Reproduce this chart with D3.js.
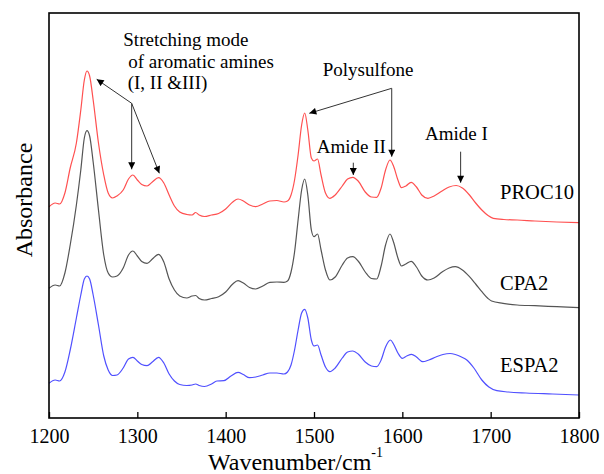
<!DOCTYPE html>
<html>
<head>
<meta charset="utf-8">
<script src="https://cdn.jsdelivr.net/npm/d3@7"></script>
<style>
html,body{margin:0;padding:0;background:#fff;}
svg{display:block;}
text{font-family:"Liberation Serif","Times New Roman","DejaVu Serif",serif;fill:#000;}
</style>
</head>
<body>
<svg id="chart" width="604" height="474"></svg>
<script>
// ---------------- data ----------------
const xTicks = [1200, 1300, 1400, 1500, 1600, 1700, 1800];

const wnPROC10 = [1200,1207,1212,1218,1224,1231,1236,1240,1243,1246,1250,1256,1262,1267,1272,1277,1284,1290,1295,1300,1305,1311,1317,1324,1330,1336,1342,1348,1356,1362,1366,1370,1376,1384,1392,1400,1408,1414,1420,1427,1434,1442,1450,1458,1466,1470,1474,1478,1482,1486,1489.5,1493,1497,1500,1504,1508,1513,1518,1524,1532,1538,1544,1550,1558,1565,1571,1576,1581,1586,1590,1595,1599,1604,1610,1616,1622,1629,1636,1645,1653,1661,1668,1676,1683,1690,1697,1703,1715,1730,1750,1775,1800];
const absPROC10 = [2.113,2.150,2.140,2.250,2.500,2.750,3.080,3.380,3.470,3.420,3.180,2.750,2.430,2.250,2.200,2.220,2.280,2.390,2.430,2.380,2.335,2.320,2.360,2.403,2.350,2.230,2.120,2.060,2.035,2.030,2.055,2.030,2.015,2.030,2.045,2.090,2.160,2.190,2.170,2.130,2.113,2.140,2.170,2.175,2.160,2.170,2.230,2.380,2.630,2.930,3.050,2.880,2.600,2.570,2.590,2.430,2.250,2.197,2.230,2.320,2.390,2.407,2.370,2.260,2.210,2.207,2.300,2.480,2.580,2.520,2.380,2.303,2.320,2.357,2.310,2.230,2.197,2.220,2.270,2.310,2.325,2.300,2.230,2.150,2.080,2.025,1.997,1.985,1.980,1.970,1.960,1.953];

const wnCPA2 = [1200,1207,1212,1218,1224,1231,1236,1240,1243,1246,1250,1256,1262,1267,1272,1277,1284,1290,1295,1300,1305,1311,1317,1324,1330,1336,1342,1348,1356,1362,1366,1370,1376,1384,1392,1400,1408,1414,1420,1427,1434,1442,1450,1458,1466,1470,1474,1478,1482,1486,1489.5,1493,1497,1500,1504,1508,1513,1518,1524,1532,1538,1544,1550,1558,1565,1571,1576,1581,1586,1590,1595,1599,1604,1610,1616,1622,1629,1636,1645,1653,1660,1668,1676,1683,1690,1697,1701,1714,1730,1750,1775,1800];
const absCPA2 = [1.297,1.330,1.320,1.450,1.730,2.130,2.480,2.800,2.873,2.820,2.560,2.080,1.630,1.450,1.410,1.420,1.500,1.630,1.670,1.620,1.565,1.547,1.590,1.637,1.560,1.390,1.280,1.220,1.200,1.220,1.225,1.195,1.180,1.195,1.213,1.260,1.340,1.373,1.350,1.305,1.290,1.320,1.357,1.360,1.357,1.370,1.460,1.660,1.980,2.280,2.390,2.230,1.880,1.813,1.840,1.680,1.480,1.380,1.410,1.530,1.600,1.613,1.570,1.460,1.395,1.390,1.520,1.730,1.840,1.760,1.600,1.520,1.540,1.567,1.510,1.420,1.380,1.400,1.460,1.500,1.513,1.480,1.413,1.340,1.263,1.195,1.170,1.147,1.130,1.123,1.113,1.103];

const wnESPA2 = [1200,1207,1212,1218,1224,1231,1236,1240,1243,1246,1250,1256,1262,1267,1272,1277,1284,1290,1295,1300,1305,1311,1317,1324,1330,1336,1342,1348,1356,1362,1366,1370,1376,1384,1390,1398,1406,1414,1420,1427,1434,1442,1450,1458,1466,1470,1474,1478,1482,1486,1489.5,1493,1497,1500,1504,1508,1513,1518,1524,1532,1538,1544,1550,1558,1565,1571,1576,1581,1586.5,1590,1595,1600,1605,1610.5,1616,1623,1630,1638,1646,1654,1660,1667,1673,1681,1690,1698,1707,1720,1740,1770,1800];
const absESPA2 = [0.347,0.380,0.370,0.460,0.680,1.000,1.230,1.390,1.420,1.390,1.230,0.930,0.620,0.480,0.425,0.430,0.500,0.590,0.607,0.570,0.535,0.523,0.560,0.607,0.550,0.440,0.370,0.335,0.325,0.330,0.340,0.325,0.315,0.340,0.370,0.373,0.420,0.457,0.435,0.403,0.410,0.430,0.450,0.450,0.440,0.460,0.530,0.680,0.880,1.050,1.087,1.000,0.780,0.720,0.730,0.630,0.510,0.463,0.500,0.600,0.660,0.670,0.640,0.560,0.520,0.513,0.580,0.710,0.780,0.740,0.650,0.597,0.620,0.637,0.610,0.563,0.580,0.610,0.635,0.645,0.635,0.610,0.580,0.500,0.380,0.310,0.273,0.260,0.250,0.240,0.230];

const seriesNames = ["PROC10", "CPA2", "ESPA2"];
const seriesColors = ["#ff5050", "#555555", "#5050ff"];

// annotation arrows: [hub wavenumber, hub abs, target wavenumber, target abs]
const stretchArrows = [[1293.6,3.147,1254,3.387],[1293.6,3.147,1293.6,2.487],[1293.6,3.147,1324.9,2.447]];
const polyArrows = [[1588,3.297,1494.7,3.047],[1588,3.297,1588,2.613]];
const amideArrows = [[1544.5,2.553,1544.5,2.43],[1666,2.663,1666,2.353]];

// ---------------- chart ----------------
const svg = d3.select("#chart");
const L = 49, R = 579, T = 13, B = 418;
const x = d3.scaleLinear().domain([1200, 1800]).range([L, R]);
const y = d3.scaleLinear().domain([0, 4.05]).range([B, T]);

const series = [
  {name: seriesNames[0], wn: wnPROC10, a: absPROC10, color: seriesColors[0]},
  {name: seriesNames[1], wn: wnCPA2, a: absCPA2, color: seriesColors[1]},
  {name: seriesNames[2], wn: wnESPA2, a: absESPA2, color: seriesColors[2]}
];

const line = d3.line().x(d => x(d[0])).y(d => y(d[1])).curve(d3.curveMonotoneX);

svg.append("g").selectAll("path").data(series).join("path")
  .attr("d", s => line(s.wn.map((w, i) => [w, s.a[i]])))
  .attr("fill", "none")
  .attr("stroke", s => s.color)
  .attr("stroke-width", 1.2);

// axis
const ax = svg.append("g").attr("transform", `translate(0,${B})`)
  .call(d3.axisBottom(x).tickValues(xTicks).tickSize(-6).tickSizeOuter(0).tickPadding(10.5).tickFormat(d3.format("d")));
ax.attr("font-family", null).attr("font-size", null);
ax.select(".domain").remove();
ax.selectAll("line").attr("stroke", "#000").attr("stroke-width", 1.3);
ax.selectAll("text").style("font-size", "20px");

// frame
svg.append("rect").attr("x", L).attr("y", T).attr("width", R - L).attr("height", B - T)
  .attr("fill", "none").attr("stroke", "#000").attr("stroke-width", 1.6);

// axis titles
const xt = svg.append("text").attr("x", 208).attr("y", 469.5).style("font-size", "24px");
xt.append("tspan").text("Wavenumber/cm");
xt.append("tspan").attr("dy", -13).style("font-size", "14px").text("-1");

svg.append("text").attr("transform", "translate(31.5,200) rotate(-90)")
  .attr("text-anchor", "middle").style("font-size", "24px").text("Absorbance");

// series labels
const labelPos = [[500, 199.3], [500, 290], [500, 371.7]];
svg.append("g").selectAll("text").data(series).join("text")
  .attr("x", (d, i) => labelPos[i][0]).attr("y", (d, i) => labelPos[i][1])
  .style("font-size", "20.5px").text(d => d.name);

// arrow marker
svg.append("defs").append("marker").attr("id", "ah")
  .attr("viewBox", "0 0 10 10").attr("refX", 10).attr("refY", 5)
  .attr("markerWidth", 8).attr("markerHeight", 7).attr("markerUnits", "userSpaceOnUse")
  .attr("orient", "auto")
  .append("path").attr("d", "M0,0 L10,5 L0,10 Z").attr("fill", "#000");

const allArrows = stretchArrows.concat(polyArrows, amideArrows);
svg.append("g").selectAll("line").data(allArrows).join("line")
  .attr("x1", d => x(d[0])).attr("y1", d => y(d[1]))
  .attr("x2", d => x(d[2])).attr("y2", d => y(d[3]))
  .attr("stroke", "#333").attr("stroke-width", 1)
  .attr("marker-end", "url(#ah)");

// annotation texts
const notes = [
  ["Stretching mode", 123.3, 45.7],
  ["of aromatic amines", 128.3, 68.3],
  ["(I, II &III)", 127.7, 89],
  ["Polysulfone", 322.7, 76],
  ["Amide II", 316.7, 153.3],
  ["Amide I", 425, 140]
];
svg.append("g").selectAll("text").data(notes).join("text")
  .attr("x", d => d[1]).attr("y", d => d[2])
  .style("font-size", "19px").text(d => d[0]);
</script>
</body>
</html>
